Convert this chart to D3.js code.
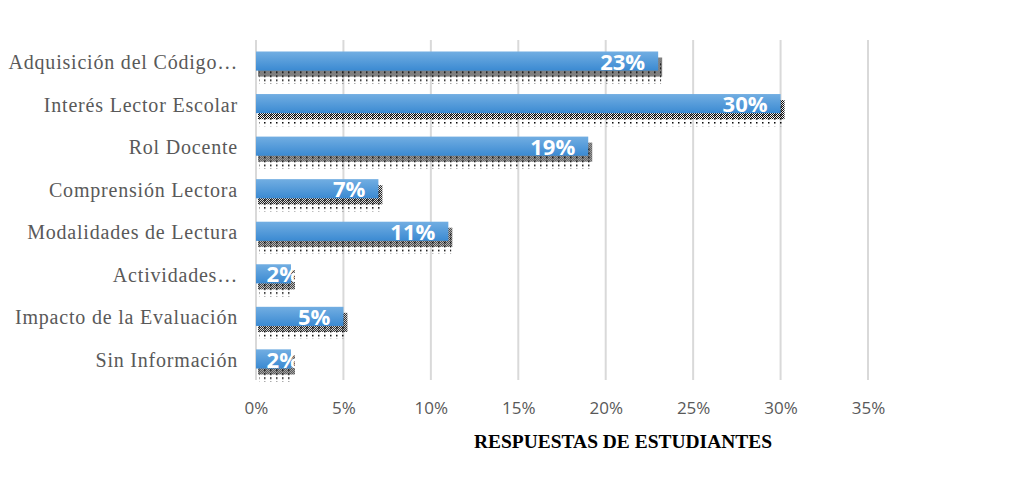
<!DOCTYPE html>
<html>
<head>
<meta charset="utf-8">
<script src="https://cdn.jsdelivr.net/npm/d3@7"></script>
<style>
  body { margin: 0; background: #fff; }
  svg { display: block; }
</style>
</head>
<body>
<div id="chart"></div>
<script>
var categories = ['Adquisición del Código…', 'Interés Lector Escolar', 'Rol Docente', 'Comprensión Lectora',
    'Modalidades de Lectura', 'Actividades…', 'Impacto de la Evaluación', 'Sin Información'];
var values = [0.23, 0.30, 0.19, 0.07, 0.11, 0.02, 0.05, 0.02];
var tickValues = [0, 0.05, 0.10, 0.15, 0.20, 0.25, 0.30, 0.35];
var axisTitle = 'RESPUESTAS DE ESTUDIANTES';

var width = 1016, height = 488;
var margin = { left: 256, right: 148, top: 40, bottom: 108 };

var svg = d3.select('#chart').append('svg').attr('width', width).attr('height', height);
var defs = svg.append('defs');

var grad = defs.append('linearGradient').attr('id', 'barGrad')
    .attr('x1', 0).attr('y1', 0).attr('x2', 0).attr('y2', 1);
grad.append('stop').attr('offset', '0%').attr('stop-color', '#72aee2');
grad.append('stop').attr('offset', '100%').attr('stop-color', '#3b8ad2');

// dense checker dots for the shadow
var dense = defs.append('pattern').attr('id', 'dense').attr('patternUnits', 'userSpaceOnUse')
    .attr('width', 2).attr('height', 2);
dense.append('rect').attr('width', 1).attr('height', 1).attr('fill', '#000');
dense.append('rect').attr('x', 1).attr('y', 1).attr('width', 1).attr('height', 1).attr('fill', '#000');

// sparse dots below
var sparse = defs.append('pattern').attr('id', 'sparse').attr('patternUnits', 'userSpaceOnUse')
    .attr('width', 6).attr('height', 4);
sparse.append('rect').attr('width', 1.5).attr('height', 1.5).attr('fill', '#000');

var x = d3.scaleLinear().domain([0, 0.35]).range([margin.left, width - margin.right]);
var y = d3.scaleBand().domain(categories).range([margin.top, height - margin.bottom]).paddingInner(0.55).paddingOuter(0.27);

// gridlines
svg.append('g').selectAll('line')
    .data(tickValues)
    .enter()
    .append('line')
    .attr('x1', function(d) { return x(d); })
    .attr('x2', function(d) { return x(d); })
    .attr('y1', margin.top)
    .attr('y2', height - margin.bottom)
    .attr('stroke', '#d9d9d9')
    .attr('stroke-width', 2);

// x axis labels
var xAxis = d3.axisBottom(x).tickValues(tickValues).tickFormat(d3.format('.0%')).tickSize(0).tickPadding(22);
var gx = svg.append('g').attr('transform', 'translate(0,' + (height - margin.bottom) + ')').call(xAxis);
gx.select('.domain').remove();
gx.selectAll('text').attr('font-family', '"Open Sans", sans-serif').attr('font-size', 17).attr('fill', '#595959');

// y axis labels
var yAxis = d3.axisLeft(y).tickSize(0).tickPadding(18);
var gy = svg.append('g').attr('transform', 'translate(' + margin.left + ',0)').call(yAxis);
gy.select('.domain').remove();
gy.selectAll('text').attr('font-family', '"Liberation Serif", serif').attr('font-size', 20)
    .attr('letter-spacing', '0.8px').attr('fill', '#595959')
    .attr('dy', '0.4em');

var bars = svg.append('g').selectAll('g')
    .data(values)
    .enter()
    .append('g')
    .attr('transform', function(d, i) { return 'translate(0,' + y(categories[i]) + ')'; });

// shadows
bars.append('rect')
    .attr('x', x(0) + 3)
    .attr('y', 10)
    .attr('width', function(d) { return x(d) - x(0); })
    .attr('height', y.bandwidth() + 3)
    .attr('fill', 'url(#sparse)');
bars.append('rect')
    .attr('x', x(0) + 2)
    .attr('y', 6)
    .attr('width', function(d) { return x(d) - x(0) + 2; })
    .attr('height', y.bandwidth())
    .attr('fill', 'url(#dense)');

bars.append('rect')
    .attr('x', x(0))
    .attr('y', 0)
    .attr('width', function(d) { return x(d) - x(0); })
    .attr('height', y.bandwidth())
    .attr('fill', 'url(#barGrad)');

bars.append('text')
    .attr('x', function(d) { return Math.max(x(d) - 13, x(0) + 43); })
    .attr('y', y.bandwidth() - 1)
    .attr('text-anchor', 'end')
    .attr('font-family', '"Open Sans", sans-serif')
    .attr('font-weight', 'bold')
    .attr('font-size', 22)
    .attr('fill', '#fff')
    .text(function(d) { return d3.format('.0%')(d); });

svg.append('text')
    .attr('x', 623)
    .attr('y', 448)
    .attr('text-anchor', 'middle')
    .attr('font-family', '"Liberation Serif", serif')
    .attr('font-weight', 'bold')
    .attr('font-size', 19)
    .attr('textLength', 298)
    .attr('lengthAdjust', 'spacingAndGlyphs')
    .attr('fill', '#000')
    .text(axisTitle);
</script>
</body>
</html>
